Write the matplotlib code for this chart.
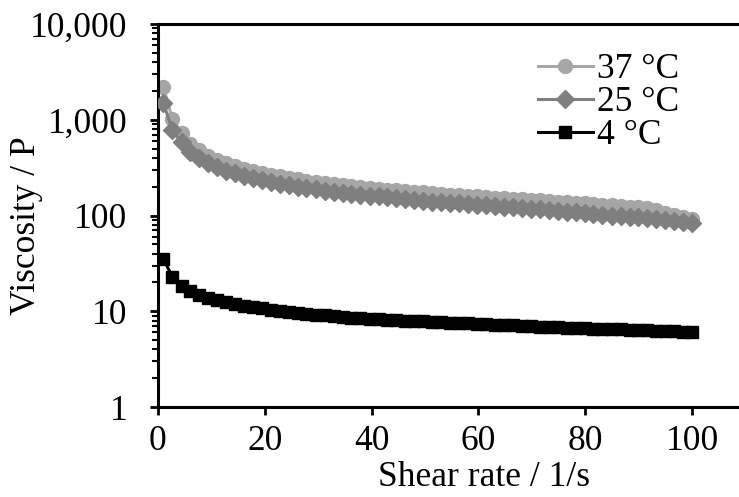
import numpy as np
import matplotlib
matplotlib.use("Agg")
import matplotlib.pyplot as plt
from matplotlib.ticker import FixedLocator, LogLocator, NullFormatter

plt.rcParams['font.family'] = ['Liberation Serif', 'DejaVu Serif']

# shear rate (1/s)
shear = [1.0, 2.7, 4.4, 6.0, 7.7, 9.4, 11.1, 12.7, 14.4, 16.1,
         17.8, 19.5, 21.1, 22.8, 24.5, 26.2, 27.8, 29.5, 31.2, 32.9,
         34.6, 36.2, 37.9, 39.6, 41.3, 42.9, 44.6, 46.3, 48.0, 49.7,
         51.3, 53.0, 54.7, 56.4, 58.1, 59.7, 61.4, 63.1, 64.8, 66.4,
         68.1, 69.8, 71.5, 73.2, 74.8, 76.5, 78.2, 79.9, 81.5, 83.2,
         84.9, 86.6, 88.3, 89.9, 91.6, 93.3, 95.0, 96.6, 98.3, 100.0]

# viscosity (P)
visc_37 = [2200, 1020, 720, 560, 480, 420, 380, 350, 325, 305,
           290, 277, 266, 256, 247, 239, 232, 225, 219, 213,
           208, 203, 198, 194, 190, 186, 183, 180, 177, 174,
           171, 168, 165, 162, 160, 158, 156, 154, 152, 150,
           148, 146, 144, 142, 140, 138, 136, 134, 132, 130,
           128, 126, 124, 122, 120, 113, 106, 101, 97, 93]
visc_25 = [1500, 780, 580, 460, 400, 355, 320, 295, 275, 258,
           245, 233, 223, 214, 206, 199, 193, 187, 182, 177,
           173, 169, 165, 161, 158, 155, 152, 149, 146, 143,
           140, 138, 136, 134, 132, 130, 128, 126, 124, 122,
           120, 118, 116, 114, 112, 110, 108, 106, 104, 102,
           100, 98.5, 97, 95.5, 94, 92, 90, 88, 86, 84]
visc_4 = [35, 23, 18.5, 16.2, 14.8, 13.8, 13.0, 12.4, 11.9, 11.4,
          11.0, 10.7, 10.4, 10.1, 9.85, 9.6, 9.4, 9.2, 9.05, 8.9,
          8.75, 8.6, 8.5, 8.4, 8.3, 8.2, 8.1, 8.0, 7.9, 7.82,
          7.75, 7.68, 7.6, 7.52, 7.45, 7.38, 7.3, 7.23, 7.17, 7.1,
          7.04, 6.98, 6.92, 6.86, 6.8, 6.75, 6.7, 6.65, 6.6, 6.55,
          6.5, 6.45, 6.4, 6.35, 6.3, 6.25, 6.2, 6.15, 6.1, 6.05]

x_ticks = [0, 20, 40, 60, 80, 100]
y_ticks = [1, 10, 100, 1000, 10000]
y_ticklabels = ['1', '10', '100', '1,000', '10,000']

FS = 25.5
W, H = 739, 497
fig = plt.figure(figsize=(W / 100, H / 100), dpi=100)
# the plot area runs on past the right edge (x axis goes to 120, cropped)
left, right, top, bottom = 158, 799, 24, 407
ax = fig.add_axes([left / W, 1 - bottom / H, (right - left) / W, (bottom - top) / H])

ax.plot(shear, visc_37, color='#a6a6a6', lw=2.2, marker='o', ms=10, label='37 °C', zorder=2)
ax.plot(shear, visc_25, color='#7f7f7f', lw=2.2, marker='D', ms=9.5, label='25 °C', zorder=3)
ax.plot(shear, visc_4, color='black', lw=2.2, marker='s', ms=8.5, label='4 °C', zorder=4)

ax.set_yscale('log')
ax.set_ylim(1, 10000)
ax.set_xlim(0, 120)
ax.yaxis.set_major_locator(FixedLocator(y_ticks))
ax.set_yticklabels(y_ticklabels)
ax.yaxis.set_minor_locator(LogLocator(base=10, subs=np.arange(2, 10)))
ax.yaxis.set_minor_formatter(NullFormatter())
ax.set_xticks(x_ticks)

for s in ['left', 'bottom', 'top', 'right']:
    ax.spines[s].set_linewidth(2.2)
ax.tick_params(axis='both', which='major', labelsize=FS, width=2, length=6, direction='out')
ax.tick_params(axis='y', which='minor', width=1.5, length=4, direction='out')
ax.tick_params(axis='y', which='major', pad=16)
ax.tick_params(axis='x', pad=7)

ax.set_xlabel('Shear rate / 1/s', fontsize=FS, labelpad=2)
ax.xaxis.label.set_x((484 - left) / (right - left))
ax.set_ylabel('Viscosity / P', fontsize=FS)
ax.yaxis.set_label_coords((43 - left) / (right - left), (bottom - 226) / (bottom - top))

fig.legend(loc='upper left', bbox_to_anchor=(538 / W, 1 - 53 / H), frameon=False,
           fontsize=FS, handlelength=1.55, handletextpad=0.12, labelspacing=0.0,
           borderaxespad=0, borderpad=0)

fig.savefig('out.png', dpi=100)
